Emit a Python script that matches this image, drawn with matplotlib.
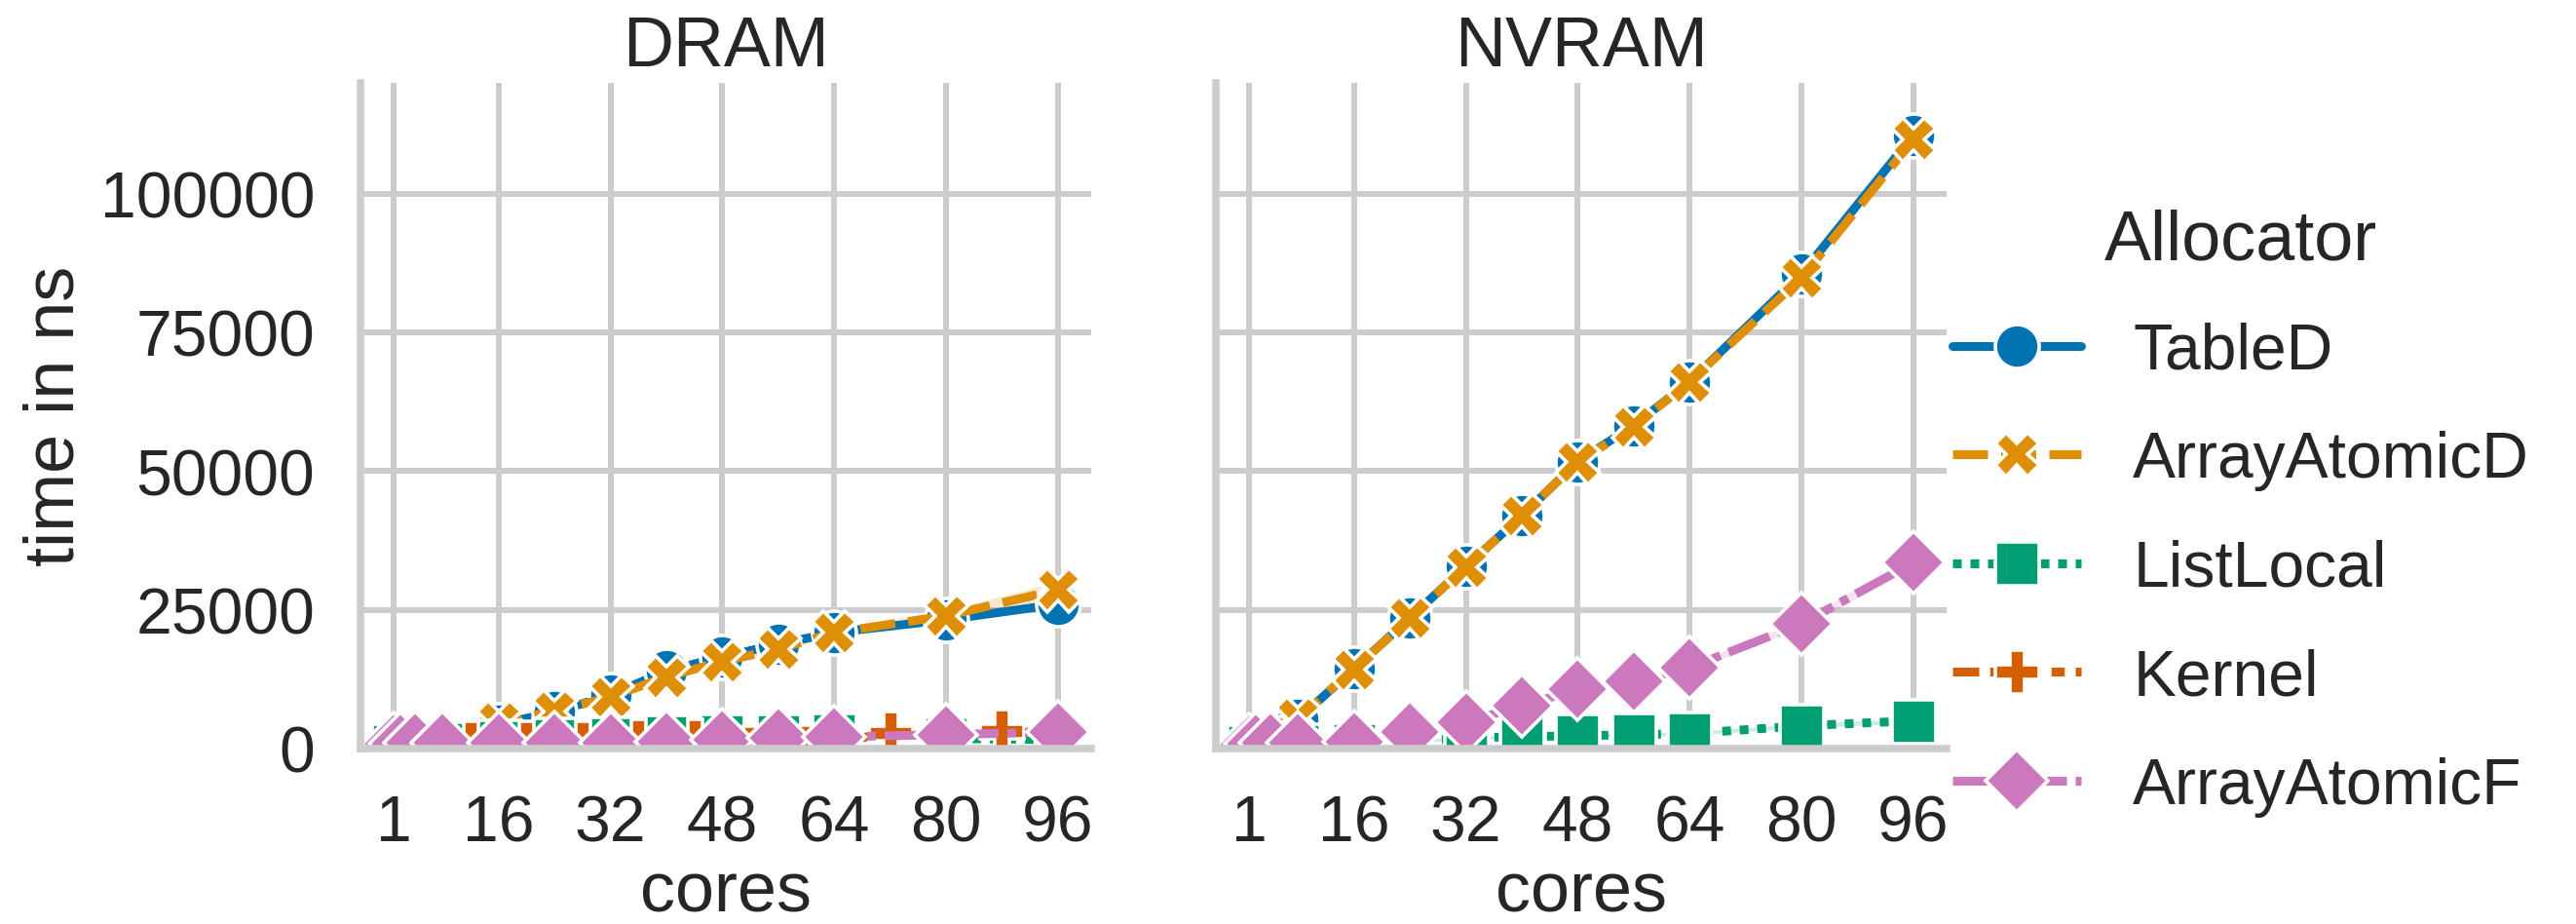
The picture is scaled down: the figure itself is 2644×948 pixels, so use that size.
import matplotlib
matplotlib.use("Agg")
import matplotlib.pyplot as plt
import seaborn as sns

sns.set_theme(context="poster", style="whitegrid", palette="colorblind")
plt.rcParams["font.family"] = ["Liberation Sans", "DejaVu Sans"]

# cores measured
cores = [1, 2, 4, 8, 16, 24, 32, 40, 48, 56, 64, 80, 96]
kernel_cores = [1, 4, 12, 20, 28, 36, 44, 52, 60, 72, 88, 96]

allocators = ["TableD", "ArrayAtomicD", "ListLocal", "Kernel", "ArrayAtomicF"]
panels = ["DRAM", "NVRAM"]

# DRAM, time in ns
dram_tabled = [700, 900, 1500, 1800, 4300, 6600, 9600, 14000, 16500, 18800, 20900, 23200, 26000]
dram_aad = [600, 800, 1300, 1600, 4800, 6700, 9300, 12900, 15700, 17900, 20900, 23900, 28600]
dram_listlocal = [500, 500, 600, 800, 1200, 1500, 1800, 2100, 2200, 2300, 2400, 1800, 1600]
dram_kernel = [600, 800, 1050, 1050, 1050, 1400, 1400, 200, 300, 2800, 3100, 2800]
dram_aaf = [900, 900, 1000, 1000, 1050, 1050, 1100, 1250, 1600, 1900, 2100, 2500, 3000]

# NVRAM, time in ns (no Kernel run)
nvram_tabled = [900, 1200, 2300, 5300, 14350, 23550, 32800, 41900, 51700, 58200, 66100, 85500, 110500]
nvram_aad = [800, 1100, 2100, 5500, 14300, 23500, 32700, 42000, 51600, 58000, 66100, 84800, 109700]
nvram_listlocal = [300, 300, 400, 500, 700, 1200, 1900, 2150, 2300, 2500, 2700, 4100, 5000]
nvram_aaf = [700, 800, 1000, 1100, 1250, 2900, 4800, 7700, 10650, 12100, 14570, 22500, 33500]

# half width of the confidence band (only where it can be seen)
dram_aad_ci = [0, 0, 0, 0, 200, 200, 300, 300, 400, 500, 700, 1000, 1500]
nvram_listlocal_ci = [0, 0, 0, 0, 100, 200, 300, 300, 300, 300, 300, 400, 400]
nvram_aaf_ci = [0, 0, 0, 0, 100, 200, 300, 400, 500, 500, 600, 800, 900]

colors = sns.color_palette("colorblind")
styles = {
    "TableD": dict(color=colors[0], marker="o", dashes=None),
    "ArrayAtomicD": dict(color=colors[1], marker="X", dashes=(4, 1.5)),
    "ListLocal": dict(color=colors[2], marker="s", dashes=(1, 1)),
    "Kernel": dict(color=colors[3], marker="P", dashes=(3, 1.25, 1.5, 1.25)),
    "ArrayAtomicF": dict(color=colors[4], marker="D", dashes=(5, 1, 1, 1)),
}

data = {
    "DRAM": {
        "TableD": (cores, dram_tabled, None),
        "ArrayAtomicD": (cores, dram_aad, dram_aad_ci),
        "ListLocal": (cores, dram_listlocal, None),
        "Kernel": (kernel_cores, dram_kernel, None),
        "ArrayAtomicF": (cores, dram_aaf, None),
    },
    "NVRAM": {
        "TableD": (cores, nvram_tabled, None),
        "ArrayAtomicD": (cores, nvram_aad, None),
        "ListLocal": (cores, nvram_listlocal, nvram_listlocal_ci),
        "ArrayAtomicF": (cores, nvram_aaf, nvram_aaf_ci),
    },
}

W, H, DPI = 2644, 949, 216
fig = plt.figure(figsize=(W / DPI, H / DPI), dpi=DPI)
ax_left = [370, 1248]
ax_w = 750
ax_top, ax_bot = 85.6, 769
axes = []
for i, name in enumerate(panels):
    ax = fig.add_axes([ax_left[i] / W, 1 - ax_bot / H, ax_w / W, (ax_bot - ax_top) / H],
                      sharey=axes[0] if axes else None)
    axes.append(ax)

handles = []
for ax, name in zip(axes, panels):
    for alloc in allocators:
        if alloc not in data[name]:
            continue
        xs, ys, ci = data[name][alloc]
        st = styles[alloc]
        line, = ax.plot(xs, ys, color=st["color"], marker=st["marker"], lw=3,
                        markersize=15, markeredgecolor="w", markeredgewidth=1.2,
                        label=alloc)
        if st["dashes"] is not None:
            line.set_dashes(st["dashes"])
        if ci is not None:
            ax.fill_between(xs, [y - c for y, c in zip(ys, ci)],
                            [y + c for y, c in zip(ys, ci)],
                            color=st["color"], alpha=0.2, lw=0)
        if name == "DRAM":
            handles.append(line)
    ax.set_title(name)
    ax.set_xlim(-3.75, 100.75)
    ax.set_ylim(0, 120000)
    ax.set_xticks([1, 16, 32, 48, 64, 80, 96])
    ax.set_yticks([0, 25000, 50000, 75000, 100000])
    ax.set_xlabel("cores", labelpad=2)
    sns.despine(ax=ax)

axes[0].set_ylabel("time in ns")
axes[1].tick_params(labelleft=False)

fig.legend(handles, allocators, title="Allocator", loc="center left",
           bbox_to_anchor=(1945 / W, 0.445), frameon=False, labelspacing=0.75)

fig.savefig("out.png", dpi=DPI)
